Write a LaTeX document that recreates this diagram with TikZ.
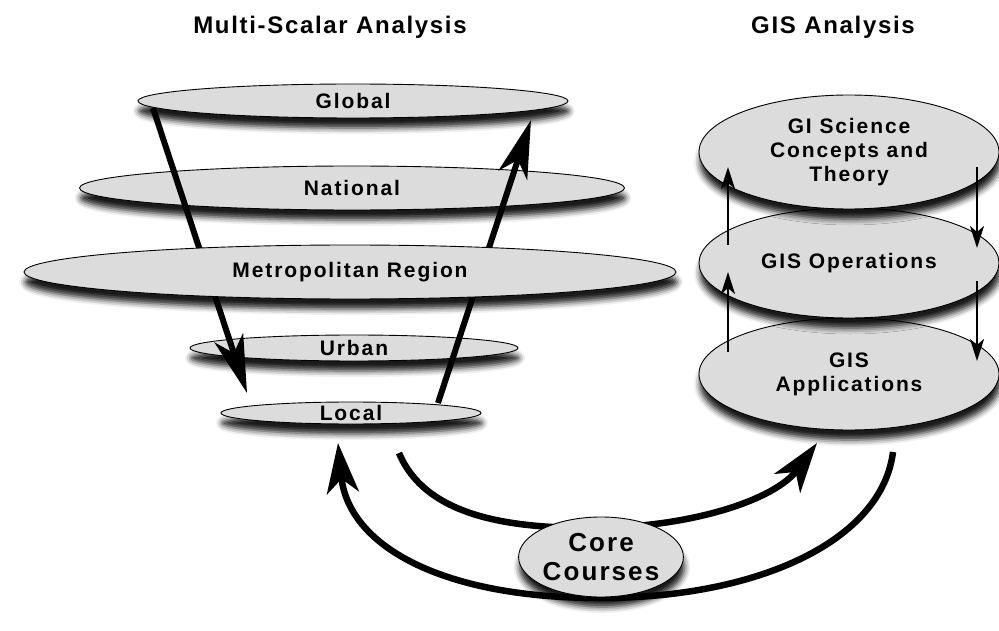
\documentclass[tikz,border=0pt]{standalone}
\usepackage{fontspec}
\setmainfont{Liberation Sans}
\newfontfamily\lblfont{Liberation Sans}[LetterSpace=9]
\newfontfamily\ttlfont{Liberation Sans}[LetterSpace=7]
\newfontfamily\corefont{Liberation Sans}[LetterSpace=8]
\usetikzlibrary{shapes.geometric,arrows.meta,shadows.blur}
\definecolor{ellfill}{HTML}{DCDCDC}
\tikzset{
  lvl/.style={ellipse, draw=black, line width=0.9pt, fill=ellfill, inner sep=0pt,
    blur shadow={shadow xshift=1pt, shadow yshift=-10pt, shadow blur radius=6pt, shadow opacity=90},
    font=\lblfont\bfseries\fontsize{21}{24}\selectfont, align=center},
  ttl/.style={font=\ttlfont\bfseries\fontsize{24}{28}\selectfont},
  bigarrow/.style={line width=6pt, -{Stealth[length=58pt,width=30pt,inset=16pt]}},
  arcarrow/.style={line width=6.5pt, -{Stealth[length=50pt,width=32pt,inset=14pt]}},
  smallarrow/.style={line width=2.5pt, -{Stealth[length=22pt,width=14pt,inset=6pt]}}
}
\begin{document}
\begin{tikzpicture}[x=1pt,y=-1pt]
\useasboundingbox (0,0) rectangle (999,631);
% titles
\node[ttl] (t1) at (330,27) {Multi-Scalar Analysis};
\node[ttl] (t2) at (833,27) {GIS Analysis};
% left stack
\node[lvl, minimum width=260pt, minimum height=22pt] (loc) at (351,413) {Local};
\node[lvl, minimum width=328pt, minimum height=26pt] (urb) at (354,348) {Urban};
\node[lvl, minimum width=545pt, minimum height=44pt] (nat) at (352,188) {National};
\node[lvl, minimum width=430pt, minimum height=34pt] (glob) at (353,101) {Global};
\coordinate (dstart) at (153,108);
\coordinate (dend) at (247,393);
\coordinate (ustart) at (438,403);
\coordinate (uend) at (531,120);
\draw[bigarrow] (dstart) -- (dend);
\draw[bigarrow] (ustart) -- (uend);
\node[lvl, minimum width=652pt, minimum height=54pt] (metro) at (350,272) {Metropolitan Region};
% right stack
\node[lvl, minimum width=300pt, minimum height=112pt] (gapp) at (849,374) {GIS\\Applications};
\node[lvl, minimum width=300pt, minimum height=110pt] (gops) at (849,263) {GIS Operations};
\node[lvl, minimum width=300pt, minimum height=114pt] (gsci) at (849,152) {GI Science\\Concepts and\\Theory};
\coordinate (a1s) at (728,245);
\coordinate (a1e) at (728,167);
\coordinate (a2s) at (728,352);
\coordinate (a2e) at (728,272);
\coordinate (b1s) at (977,167);
\coordinate (b1e) at (977,248);
\coordinate (b2s) at (977,281);
\coordinate (b2e) at (977,361);
\draw[smallarrow] (a1s) -- (a1e);
\draw[smallarrow] (a2s) -- (a2e);
\draw[smallarrow] (b1s) -- (b1e);
\draw[smallarrow] (b2s) -- (b2e);
% bottom arcs
\coordinate (os) at (893,452);
\coordinate (ob) at (600,598);
\coordinate (oe) at (338,443);
\coordinate (is) at (399,453);
\coordinate (ib) at (590,528);
\coordinate (ie) at (817,443);
\draw[arcarrow] (os) .. controls (882,540) and (760,598) .. (ob) .. controls (440,598) and (348,545) .. (oe);
\draw[arcarrow] (is) .. controls (425,515) and (505,528) .. (ib) .. controls (690,528) and (775,500) .. (ie);
\node[lvl, minimum width=152pt, minimum height=80pt, font=\corefont\bfseries\fontsize{26}{29}\selectfont] (core) at (601,557) {Core\\Courses};
\end{tikzpicture}
\end{document}
